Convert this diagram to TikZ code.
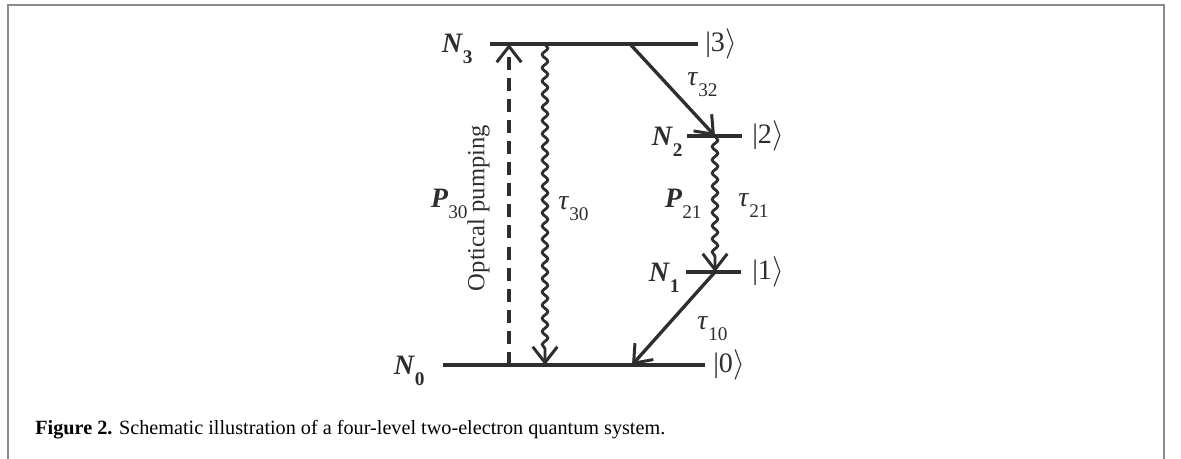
\documentclass[tikz,border=0pt]{standalone}
\usepackage{fontspec}
\setmainfont{Liberation Serif}
\usetikzlibrary{arrows.meta, positioning, decorations.pathmorphing}
\definecolor{ink}{HTML}{2E2E2E}
\definecolor{framegray}{HTML}{8C8C8C}
\newcommand{\lvsub}[1]{\raisebox{-0.38em}{\fontsize{11}{12}\selectfont#1}}

\begin{document}
\begin{tikzpicture}[
    x=0.02cm, y=-0.02cm,
    level/.style={line width=2.3pt, draw=ink},
    lbl/.style={font=\fontsize{16}{18}\selectfont, inner sep=0pt, text=ink},
    ket/.style={font=\fontsize{16}{18}\selectfont, inner sep=0pt, text=ink},
    side/.style={font=\fontsize{14}{16}\selectfont, inner sep=0pt, text=ink},
    tip/.style={-{Straight Barb[length=9pt, width=14pt, line width=1.7pt]}},
    decay/.style={tip, line width=1.9pt, draw=ink},
    wavy/.style={tip, line width=1.6pt, draw=ink, decorate,
        decoration={snake, amplitude=1.6pt, segment length=7.5pt, post length=8pt}},
    pump/.style={tip, line width=1.9pt, draw=ink, dash pattern=on 7.4pt off 4.6pt}
]

% Frame and page
\useasboundingbox (0,0) rectangle (1181,459);
\draw[framegray, line width=1.3pt] (8,459) -- (8,5) -- (1164,5) -- (1164,459);

% Levels
\coordinate (l3w) at (490,44);  \coordinate (l3e) at (698,44);
\coordinate (l2w) at (687,136); \coordinate (l2e) at (742,136);
\coordinate (l1w) at (686,272); \coordinate (l1e) at (741,272);
\coordinate (l0w) at (443,365); \coordinate (l0e) at (705,365);

\draw[level] (l3w) -- (l3e);
\draw[level] (l2w) -- (l2e);
\draw[level] (l1w) -- (l1e);
\draw[level] (l0w) -- (l0e);

% Level labels
\node[lbl, left=0.34cm of l3w, anchor=base east, yshift=-0.17cm] (n3) {\textbf{\textit{N}}\lvsub{\textbf{3}}};
\node[lbl, left=0.08cm of l2w, anchor=base east, yshift=-0.2cm] (n2) {\textbf{\textit{N}}\lvsub{\textbf{2}}};
\node[lbl, left=0.12cm of l1w, anchor=base east, yshift=-0.2cm] (n1) {\textbf{\textit{N}}\lvsub{\textbf{1}}};
\node[lbl, left=0.36cm of l0w, anchor=base east, yshift=-0.2cm] (n0) {\textbf{\textit{N}}\lvsub{\textbf{0}}};

\node[ket, right=0.14cm of l3e] (k3) {|3$\rangle$};
\node[ket, right=0.2cm of l2e] (k2) {|2$\rangle$};
\node[ket, right=0.22cm of l1e] (k1) {|1$\rangle$};
\node[ket, right=0.16cm of l0e] (k0) {|0$\rangle$};

% Transition end points
\coordinate (p0) at (509,365); \coordinate (p3) at (509,44);
\coordinate (w3) at (545,44);  \coordinate (w0) at (545,365);
\coordinate (d3) at (630,44);  \coordinate (d2) at (715,136);
\coordinate (w2) at (715,136); \coordinate (w1) at (715,272);
\coordinate (d1) at (715,272); \coordinate (d0) at (632,365);

% Transitions
\draw[pump] (p0) -- (p3);
\draw[wavy] (w3) -- (w0);
\draw[decay] (d3) -- (d2);
\draw[wavy] (w2) -- (w1);
\draw[decay] (d1) -- (d0);

% Transition labels
\node[side, rotate=90, anchor=south] (optic) at (490,208) {Optical pumping};
\node[lbl, anchor=base east] (p30) at (468,208) {\textbf{\textit{P}}\lvsub{30}};
\node[lbl, anchor=base west] (t30) at (558,210) {\textit{τ}\lvsub{30}};
\node[lbl, anchor=base west] (t32) at (687,86) {\textit{τ}\lvsub{32}};
\node[lbl, anchor=base east] (p21) at (702,208) {\textbf{\textit{P}}\lvsub{21}};
\node[lbl, anchor=base west] (t21) at (738,207) {\textit{τ}\lvsub{21}};
\node[lbl, anchor=base west] (t10) at (697,330) {\textit{τ}\lvsub{10}};

% Caption
\node[anchor=base west, inner sep=0pt, font=\fontsize{11.5}{13}\selectfont, text=black] (cap) at (35,435)
    {\textbf{Figure 2.} Schematic illustration of a four-level two-electron quantum system.};

\end{tikzpicture}
\end{document}
